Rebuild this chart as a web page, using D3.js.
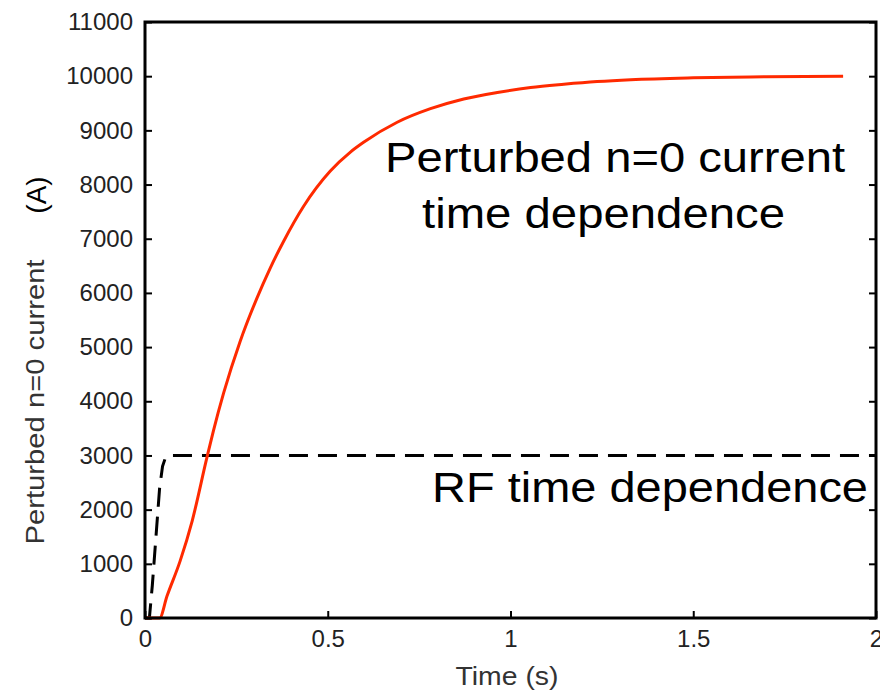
<!DOCTYPE html>
<html>
<head>
<meta charset="utf-8">
<script src="https://cdn.jsdelivr.net/npm/d3@7"></script>
<style>
  body { margin: 0; background: #fff; }
  svg { font-family: "Liberation Sans", Arial, sans-serif; }
</style>
</head>
<body>
<svg id="chart" width="880" height="692"></svg>
<script>
// perturbed n=0 current (red)
const currentTime = [0, 0.04, 0.06, 0.096, 0.129, 0.169, 0.187, 0.215, 0.26, 0.306, 0.342, 0.379, 0.434, 0.507, 0.562, 0.598, 0.69, 0.781, 0.872, 0.964, 1.055, 1.146, 1.237, 1.329, 1.5, 1.7, 1.91];
const currentValue = [0, 0, 400, 1050, 1790, 2950, 3450, 4150, 5100, 5900, 6450, 6950, 7600, 8250, 8600, 8780, 9150, 9400, 9580, 9700, 9790, 9850, 9900, 9935, 9970, 9990, 10000];

// RF time dependence (dashed)
const rfTime = [0, 0.012, 0.02, 0.03, 0.04, 0.048, 0.056, 0.065, 2.0];
const rfValue = [0, 0, 600, 1500, 2400, 2800, 2960, 3000, 3000];

const xTicks = [0, 0.5, 1, 1.5, 2];
const yTicks = d3.range(0, 11001, 1000);

const margin = { top: 22, right: 4, bottom: 74, left: 145 };
const width = 880 - margin.left - margin.right;
const height = 692 - margin.top - margin.bottom;

const svg = d3.select('#chart')
  .append('g')
  .attr('transform', `translate(${margin.left},${margin.top})`);

const x = d3.scaleLinear().domain([0, 2]).range([0, width]);
const y = d3.scaleLinear().domain([0, 11000]).range([height, 0]);

// Add lines
const line = d3.line()
  .x(d => x(d[0]))
  .y(d => y(d[1]))
  .curve(d3.curveMonotoneX);

svg.append('path')
  .datum(rfTime.map((t, i) => [t, rfValue[i]]))
  .attr('fill', 'none')
  .attr('stroke', '#000')
  .attr('stroke-width', 3)
  .attr('stroke-dasharray', '19,10')
  .attr('d', d3.line().x(d => x(d[0])).y(d => y(d[1])));

svg.append('path')
  .datum(currentTime.map((t, i) => [t, currentValue[i]]))
  .attr('fill', 'none')
  .attr('stroke', '#ff2a00')
  .attr('stroke-width', 3)
  .attr('d', line);

// Add axes (ticks inward)
const tickStyle = g => {
  g.select('.domain').remove();
  g.selectAll('.tick line').attr('stroke', '#000').attr('stroke-width', 2);
  g.selectAll('.tick text')
    .attr('fill', '#222')
    .style('font-size', '24px');
};

svg.append('g')
  .attr('transform', `translate(0,${height})`)
  .call(d3.axisBottom(x).tickValues(xTicks).tickSizeInner(-7).tickPadding(12).tickFormat(d3.format('')))
  .call(tickStyle);

svg.append('g')
  .call(d3.axisLeft(y).tickValues(yTicks).tickSizeInner(-7).tickPadding(12).tickFormat(d3.format('')))
  .call(tickStyle);

svg.append('g')
  .attr('transform', `translate(${width},0)`)
  .call(d3.axisRight(y).tickValues(yTicks).tickSizeInner(-7).tickFormat(''))
  .call(tickStyle);

svg.append('rect')
  .attr('width', width)
  .attr('height', height)
  .attr('fill', 'none')
  .attr('stroke', '#000')
  .attr('stroke-width', 3);

// Add labels
svg.append('text')
  .attr('x', 507 - margin.left)
  .attr('y', 685 - margin.top)
  .attr('text-anchor', 'middle')
  .attr('fill', '#333')
  .style('font-size', '25px')
  .attr('textLength', 103)
  .attr('lengthAdjust', 'spacingAndGlyphs')
  .text('Time (s)');

svg.append('text')
  .attr('transform', `translate(${44 - margin.left},${402 - margin.top}) rotate(-90)`)
  .attr('text-anchor', 'middle')
  .attr('fill', '#333')
  .style('font-size', '25px')
  .attr('textLength', 285)
  .attr('lengthAdjust', 'spacingAndGlyphs')
  .text('Perturbed n=0 current');

svg.append('text')
  .attr('transform', `translate(${46 - margin.left},${195 - margin.top}) rotate(-90)`)
  .attr('text-anchor', 'middle')
  .attr('fill', '#000')
  .style('font-size', '28px')
  .text('(A)');

const bigText = (txt, x0, x1, base) => svg.append('text')
  .attr('x', x0 - margin.left)
  .attr('y', base - margin.top)
  .attr('textLength', x1 - x0)
  .attr('lengthAdjust', 'spacingAndGlyphs')
  .style('font-size', '43px')
  .text(txt);

bigText('Perturbed n=0 current', 385, 845, 172);
bigText('time dependence', 422, 785, 228);
bigText('RF time dependence', 432, 868, 502);
</script>
</body>
</html>
